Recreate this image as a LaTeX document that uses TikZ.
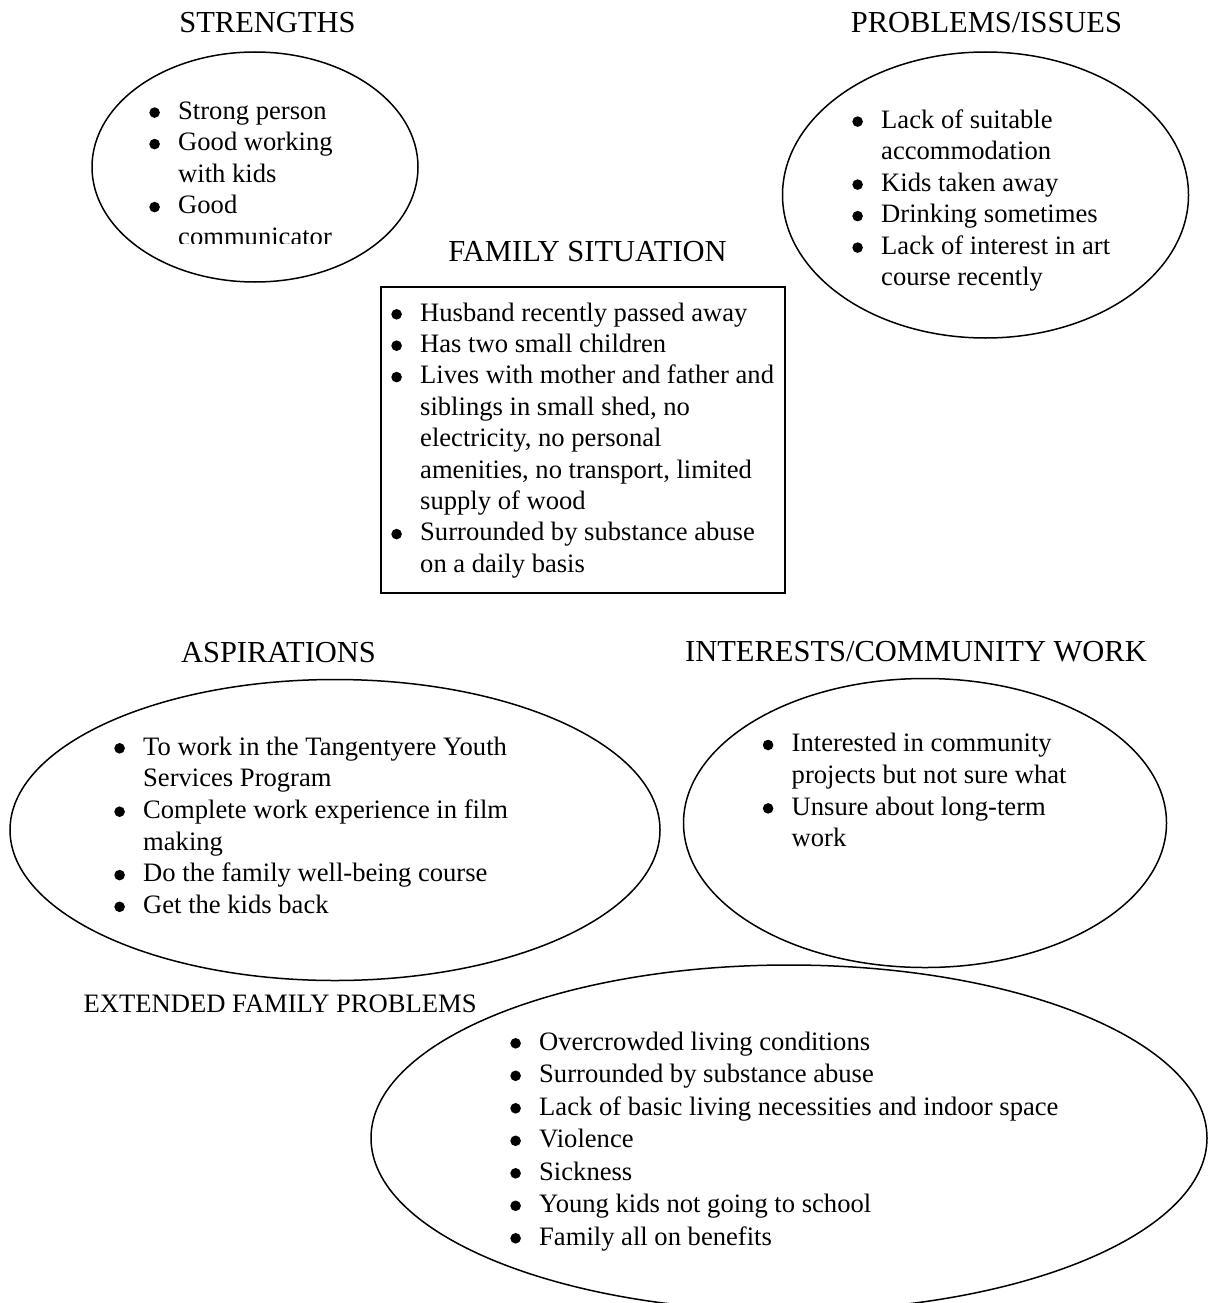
\documentclass[tikz,border=0pt]{standalone}
\usepackage{fontspec}
\setmainfont{Liberation Serif}
\usetikzlibrary{shapes.geometric}

% type sizes
\newcommand\bodyfont{\fontsize{26.6pt}{31.5pt}\selectfont}
\newcommand\headfont{\fontsize{30.5pt}{36pt}\selectfont}
% round list marker, centred 6.7pt above the baseline
\newcommand\listdot{\tikz[x=1pt, y=1pt, baseline=-6.7pt]\fill[black] (0,0) circle (5.3pt);}
% one bulleted entry; continuation lines follow with \\
\newcommand\bulletitem[1]{\par\noindent\llap{\makebox[30pt][l]{\hspace{1.1pt}\listdot}}#1}
% a block of bulleted entries, first baseline at the node's base
\newcommand\itemblock[2][31.5pt]{\begin{minipage}[t]{640pt}\fontsize{26.6pt}{#1}\selectfont\raggedright #2\end{minipage}}

\tikzset{
  outline/.style={draw=black, line width=1.5pt},
  oval/.style={outline, ellipse, inner sep=0pt},
  panel/.style={outline, rectangle, inner sep=0pt},
  heading/.style={anchor=base, inner sep=0pt, font=\headfont},
  listtext/.style={anchor=base west, inner sep=0pt},
}

\begin{document}
\begin{tikzpicture}[x=1pt, y=-1pt]
  \useasboundingbox (0,0) rectangle (1208,1303);
  \fill[white] (0,0) rectangle (1208,1303);
  \clip (0,0) rectangle (1208,1303);

  % ---- outlines ----
  \node[oval, minimum width=326pt, minimum height=230pt] (strengthsOval) at (255,167) {};
  \node[oval, minimum width=406pt, minimum height=286pt] (problemsOval) at (985.5,195) {};
  \node[panel, minimum width=404pt, minimum height=306pt] (familyBox) at (583,440) {};
  \node[oval, minimum width=650pt, minimum height=301pt] (aspirationsOval) at (335,830) {};
  \node[oval, minimum width=483pt, minimum height=289pt] (interestsOval) at (925,823) {};
  \node[oval, minimum width=836pt, minimum height=346pt] (extendedOval) at (789,1138) {};

  % ---- headings ----
  \node[heading] (strengthsTitle) at (267.5,32.5) {STRENGTHS};
  \node[heading] (problemsTitle) at (986.5,32.5) {PROBLEMS/ISSUES};
  \node[heading] (familyTitle) at (587.5,261.5) {FAMILY SITUATION};
  \node[heading] (aspirationsTitle) at (278.5,662.5) {ASPIRATIONS};
  \node[heading] (interestsTitle) at (916,661.5) {INTERESTS/COMMUNITY WORK};
  \node[anchor=base west, inner sep=0pt, font=\bodyfont] (extendedTitle) at (83.5,1012.7) {EXTENDED FAMILY PROBLEMS};

  % ---- lists ----
  \begin{scope}
    \clip (0,0) rectangle (1208,243);
    \node[listtext] (strengthsList) at (178,119.3) {\itemblock{%
      \bulletitem{Strong person}
      \bulletitem{Good working\\with kids}
      \bulletitem{Good\\communicator}}};
  \end{scope}

  \node[listtext] (problemsList) at (881,128.3) {\itemblock{%
    \bulletitem{Lack of suitable\\accommodation}
    \bulletitem{Kids taken away}
    \bulletitem{Drinking sometimes}
    \bulletitem{Lack of interest in art\\course recently}}};

  \node[listtext] (familyList) at (420,321) {\itemblock[31.4pt]{%
    \bulletitem{Husband recently passed away}
    \bulletitem{Has two small children}
    \bulletitem{Lives with mother and father and\\siblings in small shed, no\\electricity, no personal\\amenities, no transport, limited\\supply of wood}
    \bulletitem{Surrounded by substance abuse\\on a daily basis}}};

  \node[listtext] (aspirationsList) at (143,755) {\itemblock[31.7pt]{%
    \bulletitem{To work in the Tangentyere Youth\\Services Program}
    \bulletitem{Complete work experience in film\\making}
    \bulletitem{Do the family well-being course}
    \bulletitem{Get the kids back}}};

  \node[listtext] (interestsList) at (791.5,751.7) {\itemblock[31.7pt]{%
    \bulletitem{Interested in community\\projects but not sure what}
    \bulletitem{Unsure about long-term\\work}}};

  \node[listtext] (extendedList) at (539,1050) {\itemblock[32.5pt]{%
    \bulletitem{Overcrowded living conditions}
    \bulletitem{Surrounded by substance abuse}
    \bulletitem{Lack of basic living necessities and indoor space}
    \bulletitem{Violence}
    \bulletitem{Sickness}
    \bulletitem{Young kids not going to school}
    \bulletitem{Family all on benefits}}};
\end{tikzpicture}
\end{document}
